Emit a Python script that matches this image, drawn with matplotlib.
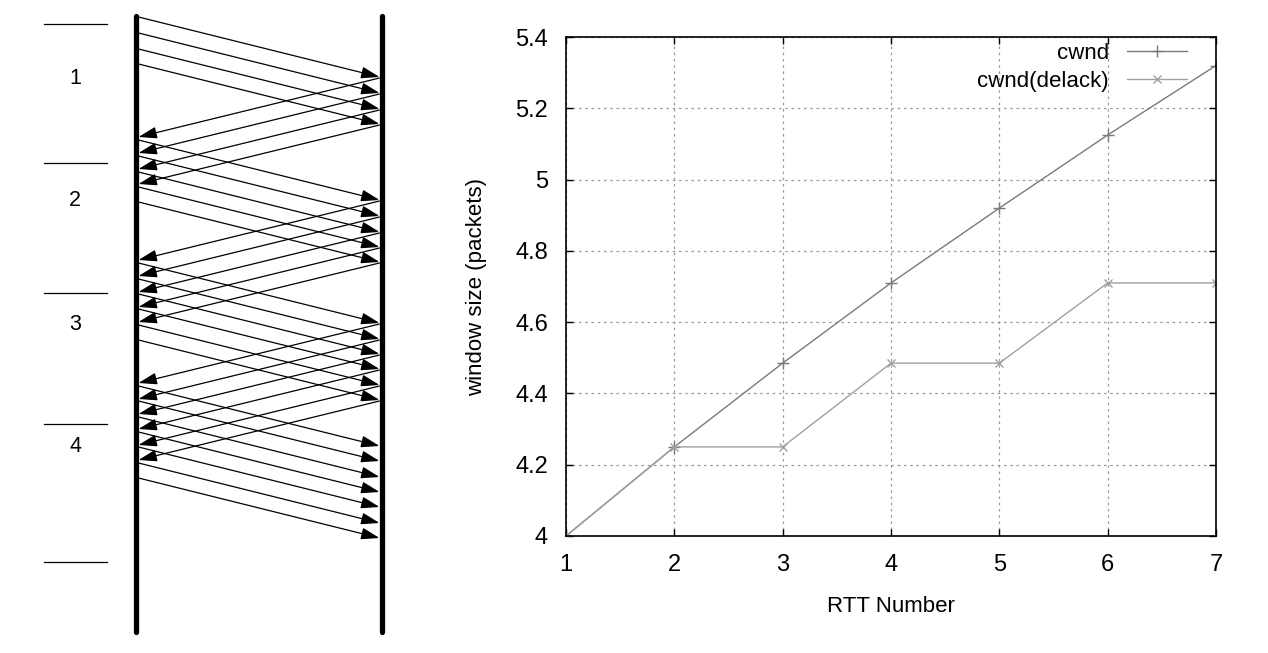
import matplotlib.pyplot as plt

plt.rcParams['font.family'] = ['Liberation Sans', 'DejaVu Sans']

# ---- left: packet exchange diagram (time runs downwards) ----
rtt_labels = ['1', '2', '3', '4']
rtt_label_times = [78, 200, 325, 447]
rtt_bounds = [24, 163, 293, 424, 562]
send_times = [
    [17, 33, 49, 64],
    [140, 156, 172, 187, 202],
    [263, 279, 294, 309, 325, 340],
    [386, 401, 417, 432, 447, 463, 478],
]
one_way = 60      # data/ack travel time
acked_rounds = 3  # acks drawn only for the first three rounds

# ---- right: window growth ----
rtt_number = [1, 2, 3, 4, 5, 6, 7]
cwnd = [4.0, 4.25, 4.485, 4.71, 4.92, 5.125, 5.32]
cwnd_delack = [4.0, 4.25, 4.25, 4.485, 4.485, 4.71, 4.71]

W, H = 1268, 653
fig = plt.figure(figsize=(W / 100, H / 100), dpi=100)

ax0 = fig.add_axes([0, 0, 1, 1])
ax0.set_xlim(0, W)
ax0.set_ylim(H, 0)
ax0.axis('off')

xl, xr = 136, 382
ax0.plot([xl, xl], [16, 632], color='black', lw=3.8, solid_capstyle='round')
ax0.plot([xr, xr], [16, 632], color='black', lw=3.8, solid_capstyle='round')

for yb in rtt_bounds:
    ax0.plot([44, 107], [yb, yb], color='black', lw=0.9)
for lab, yl in zip(rtt_labels, rtt_label_times):
    ax0.text(75, yl, lab, ha='center', va='center', fontsize=15.5)

arrow_kw = dict(arrowstyle='-|>,head_length=0.75,head_width=0.24',
                mutation_scale=15, lw=0.9, color='black',
                shrinkA=0, shrinkB=0)
for k, times in enumerate(send_times):
    for t in times:
        ax0.annotate('', xy=(xr - 2.5, t + one_way), xytext=(xl + 2.5, t),
                     arrowprops=arrow_kw)
        if k < acked_rounds:
            ax0.annotate('', xy=(xl + 2.5, t + 2 * one_way),
                         xytext=(xr - 2.5, t + one_way + 1),
                         arrowprops=arrow_kw)

# ---- right chart ----
ax = fig.add_axes([566 / W, 1 - 536 / H, 650 / W, 499 / H])
ax.plot(rtt_number, cwnd, color='#7a7a7a', lw=1.0, marker='+',
        markersize=8, markeredgewidth=1.0, label='cwnd')
ax.plot(rtt_number, cwnd_delack, color='#a0a0a0', lw=1.0, marker='x',
        markersize=6, markeredgewidth=1.0, label='cwnd(delack)')

ax.set_xlim(1, 7)
ax.set_ylim(4, 5.4)
ax.set_xticks(rtt_number)
ax.set_yticks([4, 4.2, 4.4, 4.6, 4.8, 5, 5.2, 5.4])
ax.set_yticklabels(['4', '4.2', '4.4', '4.6', '4.8', '5', '5.2', '5.4'])
ax.tick_params(direction='in', length=5, width=1.0, top=True, right=True,
               labelsize=17, pad=13)
ax.grid(True, color='#9a9a9a', linestyle=(0, (2, 3)), linewidth=0.9)
for s in ax.spines.values():
    s.set_linewidth(1.2)

ax.set_xlabel('RTT Number', fontsize=16, labelpad=14)
ax.set_ylabel('window size (packets)', fontsize=16, labelpad=20)

ax.legend(loc='upper right', frameon=False, markerfirst=False, fontsize=16,
          handlelength=2.7, handletextpad=0.8, labelspacing=0.3,
          borderaxespad=0.1, bbox_to_anchor=(0.972, 1.01))

fig.savefig('out.png', dpi=100)
